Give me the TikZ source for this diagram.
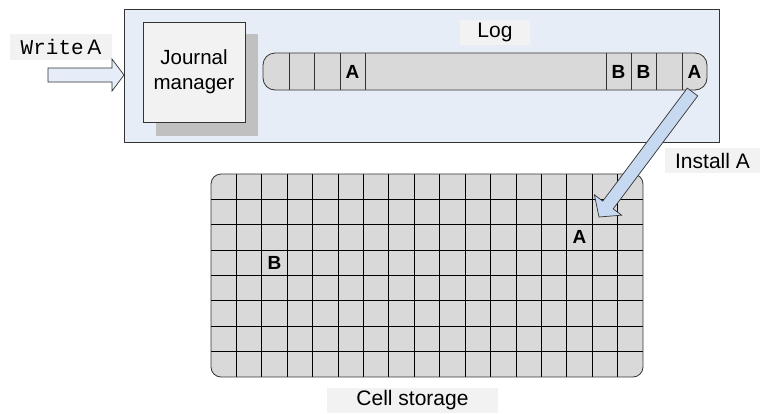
\documentclass[tikz,border=0pt]{standalone}
\usepackage{fontspec}
\setmainfont{Liberation Sans}
\setmonofont{Liberation Mono}
\usetikzlibrary{calc}
\definecolor{outerfill}{HTML}{E7EDF7}
\definecolor{cellfill}{HTML}{D9D9D9}
\definecolor{jmfill}{HTML}{F2F2F2}
\definecolor{shadowc}{HTML}{C0C0C0}
\definecolor{labelbg}{HTML}{F2F2F2}
\definecolor{installfill}{HTML}{C6D9F1}
\definecolor{writefill}{HTML}{E6EDF8}
\definecolor{linec}{HTML}{333333}
\tikzset{
  lbl/.style={fill=labelbg, inner sep=0pt, font=\fontsize{21}{25}\selectfont},
  cellletter/.style={inner sep=0pt, font=\fontsize{19}{22}\selectfont\bfseries},
  gridline/.style={draw=black, line width=0.8pt},
  blockarrow/.style={draw=linec, line width=0.7pt, line join=miter},
}
\begin{document}
\begin{tikzpicture}[x=1pt,y=-1pt]
\useasboundingbox (0,0) rectangle (761,413);
% outer system box
\draw[fill=outerfill, draw=linec, line width=0.8pt] (124,9) rectangle (719,142);
% journal manager with shadow
\fill[shadowc] (156,34) rectangle (258,136);
\node[draw=linec, line width=0.8pt, fill=jmfill, minimum width=102pt, minimum height=100pt, inner sep=0pt, align=center,
  font=\fontsize{20.5}{25}\selectfont] (jm) at (194,72) {Journal\\manager};
% log label
\node[lbl, minimum width=70pt, minimum height=25pt] (loglbl) at (495,32.5) {Log};
% log bar
\draw[fill=cellfill, draw=linec, line width=0.8pt, rounded corners=12pt] (263,53) rectangle (707,90);
\foreach \xx in {289,314,340,365,606,631,656,682}
  \draw[linec, line width=0.7pt] (\xx,53) -- (\xx,90);
\node[cellletter] (la1) at (352.5,71.5) {A};
\node[cellletter] (lb1) at (618.5,71.5) {B};
\node[cellletter] (lb2) at (643.5,71.5) {B};
\node[cellletter] (la2) at (694.5,71.5) {A};
% cell storage grid
\begin{scope}
\path[clip, rounded corners=10pt] (211,174) rectangle (643,377);
\fill[cellfill] (211,174) rectangle (643,377);
\foreach \i in {1,...,16}
  \draw[gridline] ({211+\i*432/17},174) -- ({211+\i*432/17},377);
\foreach \j in {1,...,7}
  \draw[gridline] (211,{174+\j*203/8}) -- (643,{174+\j*203/8});
\end{scope}
\draw[linec, line width=0.8pt, rounded corners=10pt] (211,174) rectangle (643,377);
\node[cellletter] (gb) at ({211+2.5*432/17},{174+3.5*203/8}) {B};
\node[cellletter] (ga) at ({211+14.5*432/17},{174+2.5*203/8}) {A};
\node[lbl, minimum width=171pt, minimum height=25pt] (cslbl) at (412.5,400.5) {Cell storage};
% write arrow
\node[lbl, minimum width=102pt, minimum height=26pt] (wlbl) at (61,47) {\texttt{Write}\,A};
\coordinate (wt) at (48,75);
\coordinate (wp) at (124,75);
\coordinate (wb) at ($(wp)!12pt!(wt)$);
\draw[blockarrow, fill=writefill]
  ($(wt)!7pt!90:(wp)$) -- ($(wb)!7pt!-90:(wt)$) -- ($(wb)!16pt!-90:(wt)$) -- (wp)
  -- ($(wb)!16pt!90:(wt)$) -- ($(wb)!7pt!90:(wt)$) -- ($(wt)!7pt!-90:(wp)$) -- cycle;
% install arrow
\node[lbl, minimum width=95pt, minimum height=25pt] (ilbl) at (712.5,160.5) {Install A};
\coordinate (it) at (692.5,92);
\coordinate (ip) at (599,217);
\coordinate (ib) at ($(ip)!15pt!(it)$);
\draw[blockarrow, fill=installfill]
  ($(it)!6.5pt!90:(ip)$) -- ($(ib)!6.5pt!-90:(it)$) -- ($(ib)!17pt!-90:(it)$) -- (ip)
  -- ($(ib)!17pt!90:(it)$) -- ($(ib)!6.5pt!90:(it)$) -- ($(it)!6.5pt!-90:(ip)$) -- cycle;
\end{tikzpicture}
\end{document}
